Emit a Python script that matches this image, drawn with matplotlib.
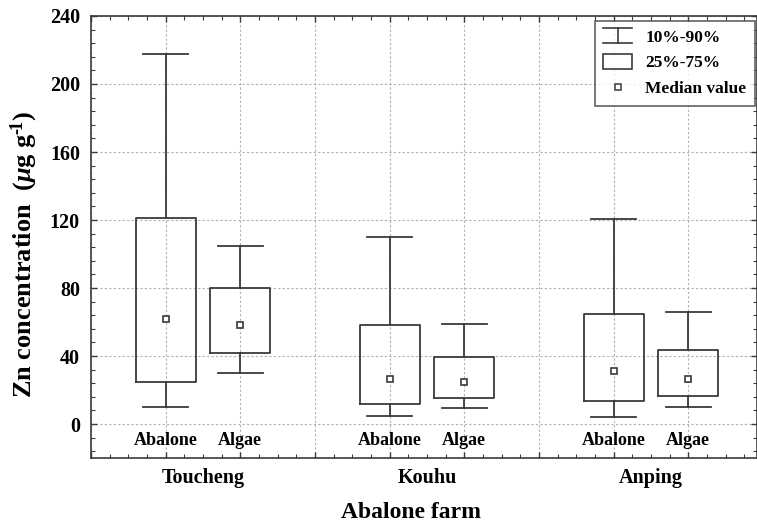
import matplotlib
matplotlib.use("Agg")
import matplotlib.pyplot as plt
from matplotlib.legend_handler import HandlerBase
from matplotlib.lines import Line2D
from matplotlib.patches import Rectangle
from matplotlib.ticker import MultipleLocator
import matplotlib.transforms as mtransforms

# ---- data ----
farms = ["Toucheng", "Kouhu", "Anping"]
sample_types = ["Abalone", "Algae"]
positions = [1, 2, 4, 5, 7, 8]
p10 = [10.2, 30.0, 4.7, 9.6, 4.3, 9.8]
q25 = [24.7, 41.8, 11.6, 15.1, 13.7, 16.3]
median = [61.8, 58.2, 26.7, 24.5, 31.0, 26.7]
q75 = [121.4, 80.2, 58.0, 39.2, 64.7, 43.3]
p90 = [217.8, 104.5, 110.2, 58.8, 120.8, 65.9]
farm_centers = [1.5, 4.5, 7.5]
legend_labels = ["10%-90%", "25%-75%", "Median value"]

plt.rcParams['font.family'] = ['Liberation Serif', 'DejaVu Serif']
plt.rcParams['font.weight'] = 'bold'
plt.rcParams['mathtext.fontset'] = 'custom'
plt.rcParams['mathtext.rm'] = 'Liberation Serif:bold'
plt.rcParams['mathtext.it'] = 'Liberation Serif:italic:bold'
plt.rcParams['mathtext.bf'] = 'Liberation Serif:bold'

LC = '#3a3a3a'

fig = plt.figure(figsize=(7.57, 5.23), dpi=100)
ax = fig.add_axes([91/757, 1-458/523, 1-91/757, (458-16)/523])

stats = []
for i in range(len(positions)):
    stats.append(dict(whislo=p10[i], q1=q25[i], med=median[i], q3=q75[i], whishi=p90[i], fliers=[]))

lw = 1.3
ax.bxp(stats, positions=positions, widths=0.8, showfliers=False,
       boxprops=dict(color=LC, linewidth=lw),
       whiskerprops=dict(color=LC, linewidth=lw),
       capprops=dict(color=LC, linewidth=lw),
       medianprops=dict(linewidth=0, color='none'),
       capwidths=0.6, zorder=3)
ax.plot(positions, median, linestyle='none', marker='s', markersize=5,
        markerfacecolor='white', markeredgecolor=LC, markeredgewidth=1.2, zorder=4)

ax.set_xlim(0, 8.92)
ax.set_ylim(-20, 240)
ax.yaxis.set_major_locator(MultipleLocator(40))
ax.yaxis.set_minor_locator(MultipleLocator(8))
ax.xaxis.set_major_locator(MultipleLocator(1))
ax.xaxis.set_minor_locator(MultipleLocator(0.25))
ax.set_xticklabels([])
ax.tick_params(which='both', direction='in', top=True, right=True, color=LC)
ax.tick_params(which='major', length=4, width=1)
ax.tick_params(which='minor', length=3, width=0.8)
ax.tick_params(axis='y', labelsize=14.5, pad=8)
ax.tick_params(axis='x', labelbottom=False)
for lab in ax.get_yticklabels():
    lab.set_fontweight('bold')
ax.grid(True, which='major', linestyle=(0, (2, 2)), color='#b0b0b0', linewidth=0.8, zorder=0)
for s in ax.spines.values():
    s.set_color(LC)
    s.set_linewidth(1.2)

# sample type labels inside axes
for i, pos in enumerate(positions):
    ax.text(pos, -9.5, sample_types[i % 2], ha='center', va='center', fontsize=13, fontweight='bold')

trans = mtransforms.blended_transform_factory(ax.transData, ax.transAxes)
for c, f in zip(farm_centers, farms):
    ax.text(c, -0.045, f, transform=trans, ha='center', va='center', fontsize=14.5, fontweight='bold')

fig.text(411/757, 1-512/523, "Abalone farm", ha='center', va='center', fontsize=17, fontweight='bold')
fig.text(24/757, 1-254/523, "Zn concentration  ($\\mathit{\\mu}$g g$^{\u2010\\!1}$)", rotation=90,
         ha='center', va='center', fontsize=19, fontweight='bold')

# legend with custom whisker handle
class WhiskerHandle:
    pass

class HandlerWhisker(HandlerBase):
    def create_artists(self, legend, orig_handle, xdescent, ydescent, width, height, fontsize, trans):
        x0, x1 = -xdescent, -xdescent + width
        xm = (x0 + x1) / 2
        y0, y1 = -ydescent - 0.1*height, -ydescent + 1.1*height
        a = Line2D([x0, x1], [y1, y1], color=LC, lw=1.2, transform=trans)
        b = Line2D([x0, x1], [y0, y0], color=LC, lw=1.2, transform=trans)
        c = Line2D([xm, xm], [y0, y1], color=LC, lw=1.2, transform=trans)
        return [a, b, c]

class HandlerBox(HandlerBase):
    def create_artists(self, legend, orig_handle, xdescent, ydescent, width, height, fontsize, trans):
        r = Rectangle((-xdescent, -ydescent - 0.1*height), width, 1.2*height, facecolor='white',
                      edgecolor=LC, lw=1.2, transform=trans)
        return [r]

wh = WhiskerHandle()
bx = Rectangle((0, 0), 1, 1)
md = Line2D([], [], linestyle='none', marker='s', markersize=4.5, markerfacecolor='white',
            markeredgecolor=LC, markeredgewidth=1.1)
leg = ax.legend([wh, bx, md], legend_labels, loc='upper right',
                handler_map={WhiskerHandle: HandlerWhisker(), Rectangle: HandlerBox()},
                prop=dict(size=12.5, weight='bold'), frameon=True, fancybox=False,
                edgecolor=LC, handlelength=1.67, handletextpad=0.75, labelspacing=0.55,
                borderpad=0.5, borderaxespad=0, bbox_to_anchor=(0.997, 0.989))
leg.get_frame().set_linewidth(1.2)
leg.set_zorder(5)

fig.savefig("out.png", dpi=100)
